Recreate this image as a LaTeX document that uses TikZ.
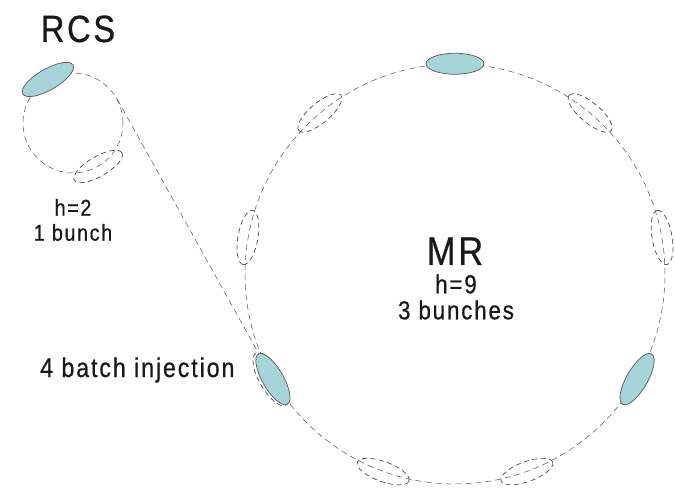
\documentclass[tikz,border=0pt]{standalone}
\usepackage{fontspec}
\setmainfont{Liberation Sans}[FakeStretch=0.86, LetterSpace=7, FakeBold=0.6]
\usepackage{tikz}
\usetikzlibrary{shapes.geometric,arrows.meta,positioning}

\begin{document}
\begin{tikzpicture}[x=1pt, y=1pt, font=\fontsize{23}{25}\selectfont]

        \useasboundingbox (0, 0) rectangle (675, 488);
        \definecolor{bunchcyan}{RGB}{166, 212, 217}
        \definecolor{ringgray}{RGB}{85, 85, 85}
        \tikzset{
            ring/.style={circle, draw=ringgray, line width=0.5pt, dash pattern=on 6pt off 4pt, inner sep=0pt},
            bunch/.style={ellipse, draw=black!65, fill=bunchcyan, line width=0.7pt, minimum width=58pt, minimum height=21pt, inner sep=0pt},
            ghost/.style={ellipse, draw=black!70, line width=0.7pt, dash pattern=on 5pt off 3.5pt, minimum width=55pt, minimum height=20pt, inner sep=0pt},
            ringname/.style={font=\fontsize{40}{40}\selectfont, text=black!90, anchor=base},
            ringinfo/.style={align=center, text=black!90},
            line/.style={draw=ringgray, line width=0.5pt, dash pattern=on 6pt off 4pt}
        }


        \node[ring, minimum size=100pt] (rcs) at (73, 365) {};
        \node[ring, minimum size=420pt] (mr) at (455, 214) {};
        \draw[line] (rcs.28) -- (mr.210);


        \node[ghost, rotate=30] (rcs300) at (rcs.300) {};
        \foreach \a in {130, 170, 250, 290, 10, 50}
            \node[ghost, rotate=\a+90] (mr\a) at (mr.\a) {};
        \node[ghost, rotate=300, minimum width=60pt, minimum height=23pt] (injghost) at ([xshift=-2pt]mr.210) {};


        \node[bunch, rotate=30] (rcs120) at (rcs.120) {};
        \foreach \a in {90, 210, 330}
            \node[bunch, rotate=\a+90] (mrb\a) at (mr.\a) {};


        \node[ringname, font=\fontsize{38}{38}\selectfont] (rcsname) at (78, 446) {RCS};
        \node[ringinfo] (rcsinfo) at (73, 268) {h=2\\1 bunch};
        \node[ringname] (mrname) at (455, 223) {MR};
        \node[ringinfo, font=\fontsize{26}{26}\selectfont] (mrinfo) at (456, 191) {h=9\\3 bunches};
        \node[font=\fontsize{27}{27}\selectfont, text=black!90, anchor=base east] (injtext) at (238, 111) {4 batch injection};

    \end{tikzpicture}
\end{document}
